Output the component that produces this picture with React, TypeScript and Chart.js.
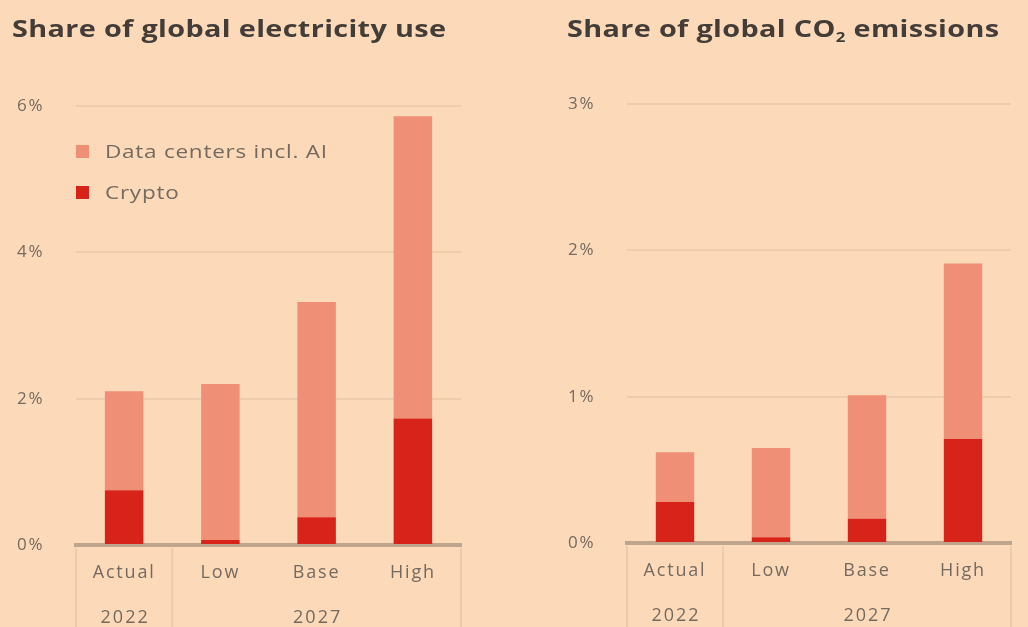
import React, { useEffect, useRef } from "react";
import { Chart, registerables } from "chart.js";
Chart.register(...registerables);

const BG = "#FCDAB9";
const LIGHT = "#EE8F76";
const DARK = "#D8231A";
const GRID = "#F0CDAA";
const AXIS = "#BFA58C";
const SEP = "#EACBAC";
const TITLE_COLOR = "#433C37";
const TEXT_COLOR = "#76695E";
const FONT = "'Open Sans', sans-serif";
const CANVAS_SPACING = "1.8px";

const CATEGORIES = ["Actual", "Low", "Base", "High"];
const YEAR_LABELS = ["2022", "2027"];
const YEAR_FROM = [0, 1];
const YEAR_TO = [0, 3];
const SERIES_NAMES = ["Data centers incl. AI", "Crypto"];

const ELEC_CRYPTO = [0.75, 0.07, 0.38, 1.73];
const ELEC_DATACENTERS = [1.35, 2.13, 2.94, 4.13];
const CO2_CRYPTO = [0.28, 0.04, 0.165, 0.71];
const CO2_DATACENTERS = [0.34, 0.61, 0.845, 1.2];

const ELEC_MAX = 6;
const ELEC_STEP = 2;
const CO2_MAX = 3;
const CO2_STEP = 1;

const spacingPlugin = {
  id: "spacing",
  beforeUpdate(chart: any) {
    (chart.ctx as any).letterSpacing = CANVAS_SPACING;
  },
  beforeLayout(chart: any) {
    (chart.ctx as any).letterSpacing = CANVAS_SPACING;
  },
  beforeDraw(chart: any) {
    (chart.ctx as any).letterSpacing = CANVAS_SPACING;
  },
};

const groupPlugin = {
  id: "groups",
  afterDraw(chart: any) {
    const x = chart.scales.x;
    const ctx = chart.ctx;
    const { left, right, bottom } = chart.chartArea;
    const H = chart.height;
    const bounds = [left];
    for (let g = 0; g < YEAR_LABELS.length - 1; g++) {
      bounds.push((x.getPixelForValue(YEAR_TO[g]) + x.getPixelForValue(YEAR_FROM[g + 1])) / 2);
    }
    bounds.push(right);
    ctx.save();
    ctx.strokeStyle = SEP;
    ctx.lineWidth = 2;
    bounds.forEach((b) => {
      ctx.beginPath();
      ctx.moveTo(b, bottom + 3);
      ctx.lineTo(b, H);
      ctx.stroke();
    });
    ctx.fillStyle = TEXT_COLOR;
    ctx.font = `18px ${FONT}`;
    ctx.letterSpacing = "2px";
    ctx.textAlign = "center";
    ctx.textBaseline = "middle";
    YEAR_LABELS.forEach((lab, g) => {
      const cx = (x.getPixelForValue(YEAR_FROM[g]) + x.getPixelForValue(YEAR_TO[g])) / 2;
      ctx.fillText(lab, cx + 1, bottom + 73);
    });
    ctx.restore();
  },
};

function makeConfig(crypto: number[], dc: number[], max: number, step: number, pad: any, xh: number) {
  return {
    type: "bar",
    data: {
      labels: CATEGORIES,
      datasets: [
        { label: SERIES_NAMES[1], data: crypto, backgroundColor: DARK, barPercentage: 0.4, categoryPercentage: 1 },
        { label: SERIES_NAMES[0], data: dc, backgroundColor: LIGHT, barPercentage: 0.4, categoryPercentage: 1 },
      ],
    },
    options: {
      responsive: false,
      animation: false,
      layout: { padding: pad },
      plugins: { legend: { display: false }, tooltip: { enabled: false }, title: { display: false } },
      scales: {
        x: {
          stacked: true,
          z: 1,
          grid: { display: false },
          border: { display: true, color: AXIS, width: 4 },
          ticks: { color: TEXT_COLOR, font: { family: FONT, size: 18 }, padding: 9 },
          afterFit: (s: any) => {
            s.height = xh;
          },
        },
        y: {
          stacked: true,
          min: 0,
          max,
          ticks: {
            stepSize: step,
            crossAlign: "far",
            color: TEXT_COLOR,
            font: { family: FONT, size: 17 },
            callback: (v: any) => v + "%",
          },
          grid: {
            drawTicks: false,
            color: (c: any) => (c.tick && c.tick.value === 0 ? "rgba(0,0,0,0)" : GRID),
            lineWidth: 2,
          },
          border: { display: false },
          afterFit: (s: any) => {
            s.width = 59;
          },
        },
      },
    },
    plugins: [spacingPlugin, groupPlugin],
  };
}

function BarChart(props: { crypto: number[]; dc: number[]; max: number; step: number; pad: any; xh: number }) {
  const ref = useRef<HTMLCanvasElement>(null);
  useEffect(() => {
    const chart = new Chart(ref.current as any, makeConfig(props.crypto, props.dc, props.max, props.step, props.pad, props.xh) as any);
    return () => chart.destroy();
  }, []);
  return <canvas ref={ref} width={514} height={627} style={{ display: "block" }} />;
}

export default function App() {
  const titleStyle: any = {
    position: "absolute",
    top: 11,
    fontFamily: FONT,
    fontWeight: 700,
    fontSize: 24,
    letterSpacing: "0.3px",
    color: TITLE_COLOR,
    whiteSpace: "nowrap",
    lineHeight: "34px",
    transform: "scaleX(1.2)",
    transformOrigin: "left center",
  };
  const legendItem = (color: string, label: string, top: number) => (
    <div style={{ position: "absolute", left: 76, top, display: "flex", alignItems: "center", fontFamily: FONT, fontSize: 18, color: TEXT_COLOR, whiteSpace: "nowrap" }}>
      <span style={{ display: "inline-block", width: 13, height: 13, background: color, marginRight: 16 }} />
      <span style={{ display: "inline-block", letterSpacing: "0.6px", transform: "scaleX(1.25)", transformOrigin: "left center" }}>{label}</span>
    </div>
  );
  return (
    <div style={{ position: "fixed", left: 0, top: 0, width: 1028, height: 627, background: BG, overflow: "hidden" }}>
      <div style={{ position: "absolute", left: 0, top: 0 }}>
        <BarChart crypto={ELEC_CRYPTO} dc={ELEC_DATACENTERS} max={ELEC_MAX} step={ELEC_STEP} pad={{ left: 17, right: 53, top: 106, bottom: 0 }} xh={82} />
      </div>
      <div style={{ position: "absolute", left: 514, top: 0 }}>
        <BarChart crypto={CO2_CRYPTO} dc={CO2_DATACENTERS} max={CO2_MAX} step={CO2_STEP} pad={{ left: 54, right: 17, top: 104, bottom: 0 }} xh={84} />
      </div>
      <div style={{ ...titleStyle, left: 12 }}>Share of global electricity use</div>
      <div style={{ ...titleStyle, left: 567 }}>
        Share of global CO<sub style={{ fontSize: 14, verticalAlign: "-5px", lineHeight: 0 }}>2</sub> emissions
      </div>
      {legendItem(LIGHT, SERIES_NAMES[0], 139)}
      {legendItem(DARK, SERIES_NAMES[1], 180)}
    </div>
  );
}
